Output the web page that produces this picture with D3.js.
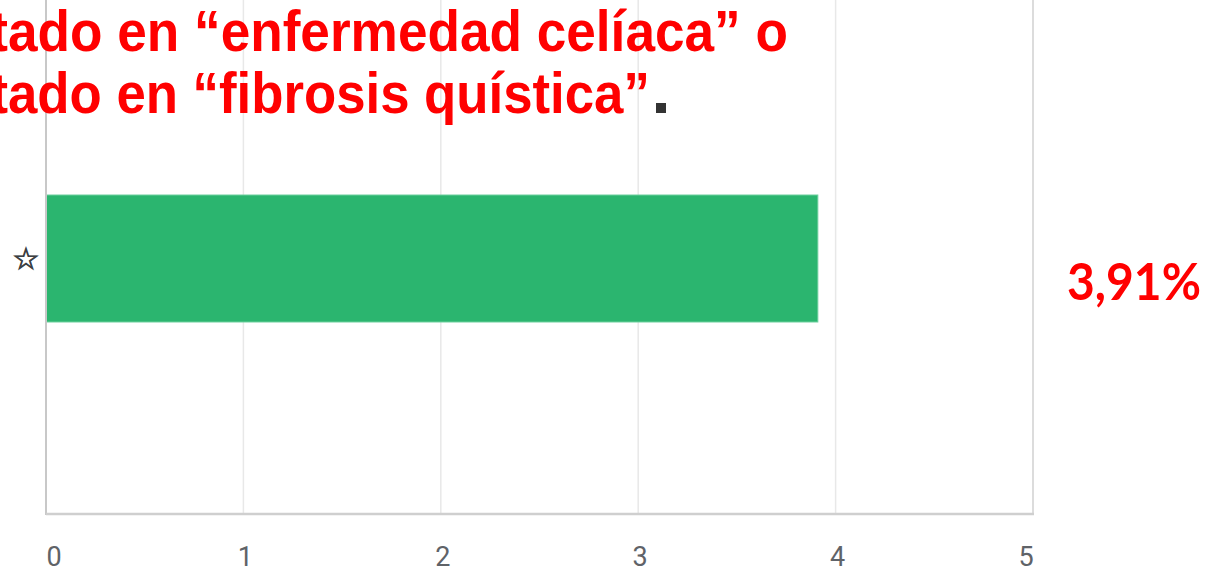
<!DOCTYPE html>
<html><head><meta charset="utf-8">
<script src="https://cdn.jsdelivr.net/npm/d3@7"></script>
<style>body{margin:0;background:#fff;}svg{display:block;}</style>
</head><body>
<svg id="chart" width="1212" height="572"></svg>
<script>
const categories = ["☆"];
const values = [3.91];
const tickValues = [0, 1, 2, 3, 4, 5];
const valueLabels = ["3,91%"];
const titleLines = ["afectado en “enfermedad celíaca” o", "afectado en “fibrosis quística”"];

const svg = d3.select("#chart");
const x = d3.scaleLinear().domain([0, 5]).range([46, 1033]);
const y = d3.scaleBand().domain(categories).range([195, 322]).paddingInner(0).paddingOuter(0);

// grid
svg.append("g").selectAll("line").data(tickValues.slice(1)).join("line")
  .attr("x1", d => x(d)).attr("x2", d => x(d)).attr("y1", 0).attr("y2", 514)
  .attr("stroke", d => d === 5 ? "#dcdcdc" : "#e8e8e8").attr("stroke-width", d => d === 5 ? 2 : 1.5);

// bars
svg.append("g").selectAll("rect").data(values).join("rect")
  .attr("x", x(0)).attr("y", (d, i) => y(categories[i]))
  .attr("width", d => x(d) - x(0)).attr("height", y.bandwidth())
  .attr("fill", "#2bb56f").attr("stroke", "#6ccf9d").attr("stroke-width", 1);

// axes lines
svg.append("line").attr("x1", 46).attr("x2", 46).attr("y1", 0).attr("y2", 515)
  .attr("stroke", "#c8c8c8").attr("stroke-width", 2);
svg.append("line").attr("x1", 46).attr("x2", 1034).attr("y1", 514).attr("y2", 514)
  .attr("stroke", "#cfcfcf").attr("stroke-width", 2.5);

// tick labels
const tickShift = d => d === 0 ? 8 : d === tickValues[tickValues.length - 1] ? -7 : 2;
svg.append("g").selectAll("text").data(tickValues).join("text")
  .attr("x", d => x(d) + tickShift(d)).attr("y", 566)
  .attr("text-anchor", "middle").attr("font-family", "Roboto").attr("font-size", 27)
  .attr("fill", "#5f6368").text(d => d);

// category labels (star icon)
svg.append("g").selectAll("text").data(categories).join("text")
  .attr("x", 26).attr("y", d => y(d) + y.bandwidth() / 2 + 10)
  .attr("text-anchor", "middle").attr("font-family", "DejaVu Sans").attr("font-size", 30)
  .attr("fill", "#3c4043").attr("stroke", "#3c4043").attr("stroke-width", 0.9).text(d => d);

// value label
svg.append("g").selectAll("text").data(valueLabels).join("text")
  .attr("x", 1067).attr("y", 300).attr("font-family", "Lato").attr("font-weight", "bold")
  .attr("font-size", 51).attr("fill", "#ff0000")
  .attr("textLength", 134).attr("lengthAdjust", "spacingAndGlyphs").text(d => d);

// title lines (cut off at left, as in the reference)
const titleY = [51, 113];
const visStart = 8, visEnd = [788, 650];
titleLines.forEach((t, i) => {
  const g = svg.append("g");
  const tx = g.append("text").attr("font-family", "Liberation Sans").attr("font-weight", "bold")
    .attr("font-size", 57).attr("fill", "#ff0000").text(t);
  const node = tx.node();
  const total = node.getComputedTextLength();
  const pref = node.getSubStringLength(0, 5); // "afect"
  const sx = (visEnd[i] - visStart) / (total - pref);
  g.attr("transform", `translate(${visStart - pref * sx},${titleY[i]}) scale(${sx},1)`);
  if (i === 1) {
    svg.append("rect").attr("x", 656).attr("y", titleY[i] - 10).attr("width", 10).attr("height", 10).attr("fill", "#333");
  }
});
</script>
</body></html>
